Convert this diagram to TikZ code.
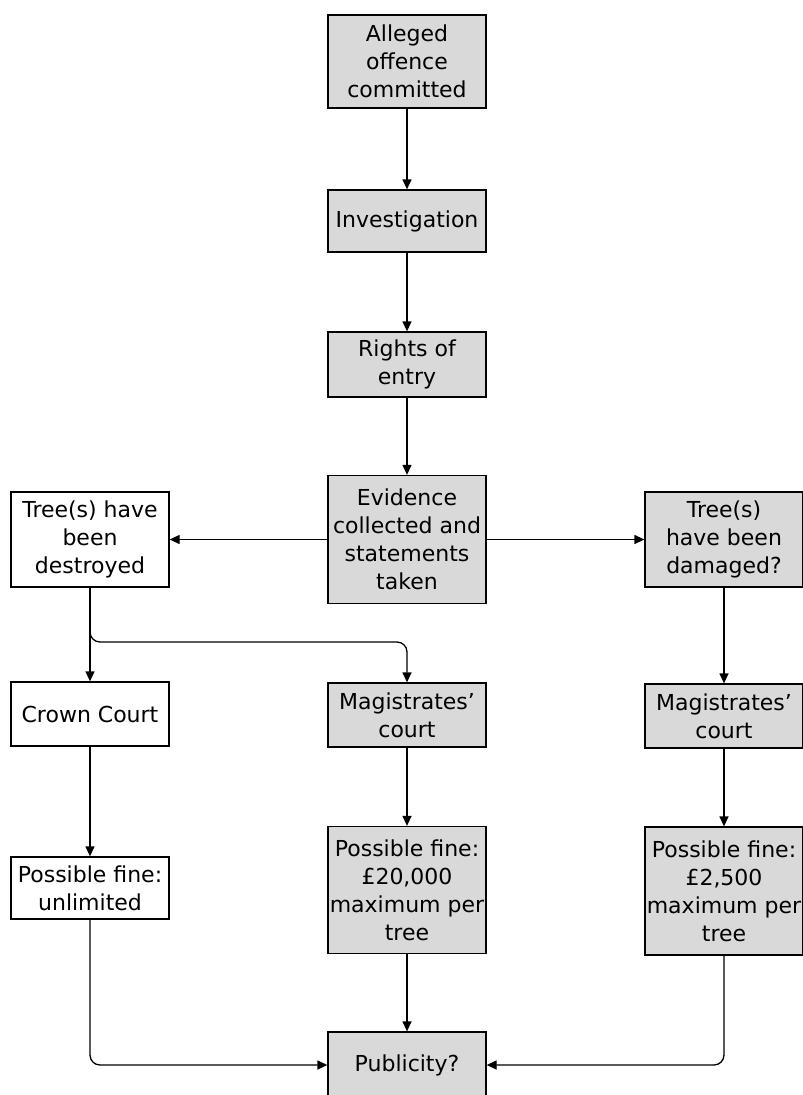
\documentclass[tikz,border=0pt]{standalone}
\usepackage{fontspec}
\setmainfont{DejaVu Sans}
\usetikzlibrary{arrows.meta}
\begin{document}
\begin{tikzpicture}[x=1pt,y=-1pt,
    box/.style={draw,line width=1.3pt,minimum width=158pt,inner sep=0pt,
      align=center,font=\fontsize{22}{28}\selectfont},
    greybox/.style={box,fill=black!15},
    line/.style={line width=1.3pt,-{Triangle[length=10pt,width=9pt]},rounded corners=10pt}]
  \useasboundingbox (0,0) rectangle (803,1095);
  % centre column
  \node[greybox,minimum height=93pt] (alleged) at (407,61.5) {Alleged\\offence\\committed};
  \node[greybox,minimum height=62pt] (invest) at (407,221) {Investigation};
  \node[greybox,minimum height=65pt] (rights) at (407,364.5) {Rights of\\entry};
  \node[greybox,minimum height=128pt] (evidence) at (407,539.5) {Evidence\\collected and\\statements\\taken};
  \node[greybox,minimum height=64pt] (magC) at (407,715) {Magistrates’\\court};
  \node[greybox,minimum height=127pt] (fineC) at (407,890) {Possible fine:\\£20,000\\maximum per\\tree};
  \node[greybox,minimum height=66pt] (publicity) at (407,1065) {Publicity?};
  % left column
  \node[box,minimum height=95pt] (destroyed) at (90,539.5) {Tree(s) have\\been\\destroyed};
  \node[box,minimum height=64pt] (crown) at (90,714) {Crown Court};
  \node[box,minimum height=62pt] (unlimited) at (90,888) {Possible fine:\\unlimited};
  % right column
  \node[greybox,minimum height=95pt] (damaged) at (724,539.5) {Tree(s)\\have been\\damaged?};
  \node[greybox,minimum height=64pt] (magR) at (724,716) {Magistrates’\\court};
  \node[greybox,minimum height=128pt] (fineR) at (724,891) {Possible fine:\\£2,500\\maximum per\\tree};
  \coordinate (branch) at (407,642);
  \draw[line] (alleged) -- (invest);
  \draw[line] (invest) -- (rights);
  \draw[line] (rights) -- (evidence);
  \draw[line] (evidence) -- (destroyed);
  \draw[line] (evidence) -- (damaged);
  \draw[line] (destroyed) -- (crown);
  \draw[line] (destroyed.south) |- (branch) -- (magC.north);
  \draw[line] (damaged) -- (magR);
  \draw[line] (crown) -- (unlimited);
  \draw[line] (magC) -- (fineC);
  \draw[line] (magR) -- (fineR);
  \draw[line] (fineC) -- (publicity);
  \draw[line] (unlimited.south) |- (publicity.west);
  \draw[line] (fineR.south) |- (publicity.east);
\end{tikzpicture}
\end{document}
